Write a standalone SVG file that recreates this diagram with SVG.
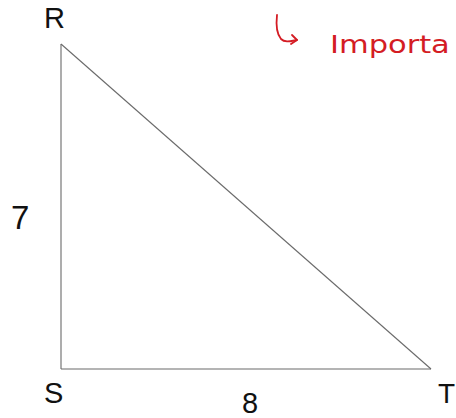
<svg xmlns="http://www.w3.org/2000/svg" width="456" height="418" viewBox="0 0 456 418">
<style>
.lbl{font-family:"Liberation Sans",Arial,sans-serif;fill:#111;}
.edge{stroke:#6a6a6a;stroke-width:1.1;fill:none;}
.note{font-family:"DejaVu Sans","Liberation Sans",sans-serif;fill:#d41c24;}
.ink{stroke:#d41c24;stroke-width:1.8;fill:none;stroke-linecap:round;stroke-linejoin:round;}
</style>
<rect width="456" height="418" fill="#fff"/>
<g id="connectors">
<line class="edge" x1="61" y1="44" x2="61" y2="369"/>
<line class="edge" x1="61" y1="369" x2="431" y2="369"/>
<line class="edge" x1="61" y1="44" x2="431" y2="369"/>
</g>
<g id="node-R"><text class="lbl" x="44" y="28" font-size="29">R</text></g>
<g id="node-S"><text class="lbl" x="44" y="403" font-size="29">S</text></g>
<g id="node-T"><text class="lbl" x="438" y="403" font-size="28">T</text></g>
<g id="label-7"><text class="lbl" x="11" y="229" font-size="33">7</text></g>
<g id="label-8"><text class="lbl" x="250" y="413" font-size="29" text-anchor="middle">8</text></g>
<g id="note">
<path class="ink" d="M277 15 C276 24 276 33 281 39 C285 43 291 41 297 40"/>
<path class="ink" d="M292 35 L297 40 L291 44"/>
<text class="note" transform="translate(330,53) scale(1.27,1)" x="0" y="0" font-size="24">Importa</text>
</g>
</svg>
